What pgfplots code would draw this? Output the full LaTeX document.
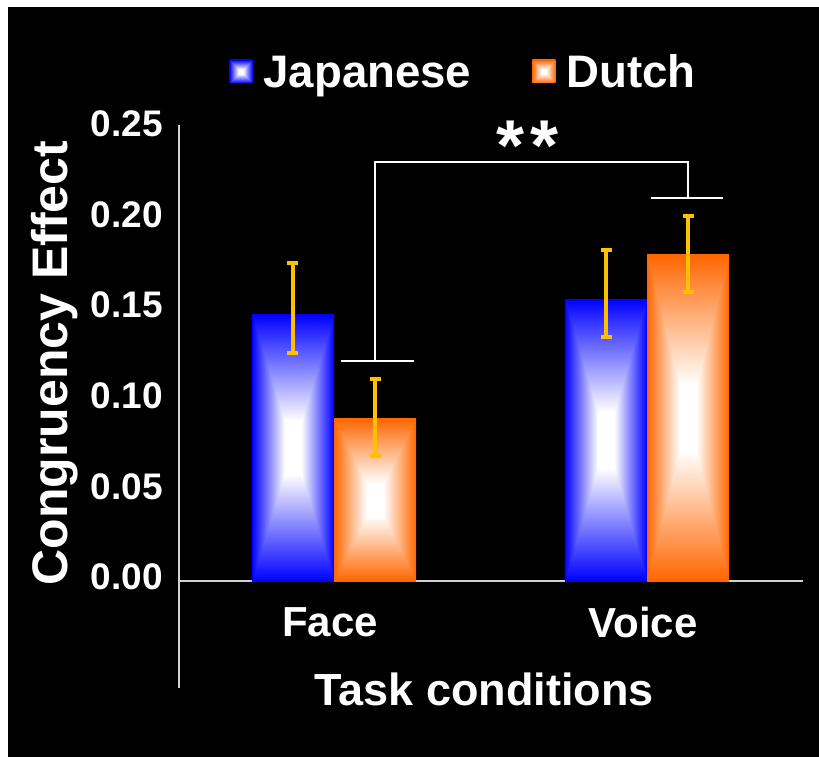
\documentclass[border=0pt]{standalone}
\usepackage{fontspec}
\setmainfont{Liberation Sans}
\usepackage{pgfplots}
\pgfplotsset{compat=1.18}
\definecolor{jblue}{RGB}{0,0,255}
\definecolor{dorange}{RGB}{255,102,0}
\definecolor{errcol}{RGB}{255,192,0}
\definecolor{axcol}{RGB}{210,210,210}

\pgfdeclarefunctionalshading{japshade}{\pgfpoint{-50bp}{-50bp}}{\pgfpoint{50bp}{50bp}}{}{abs 25 div exch abs 25 div 2 copy lt {exch} if pop 0.2 sub 0.8 div dup 0 lt {pop 0} if dup 1 gt {pop 1} if 1 exch sub dup 1}
\pgfdeclarefunctionalshading{dutshade}{\pgfpoint{-50bp}{-50bp}}{\pgfpoint{50bp}{50bp}}{}{abs 25 div exch abs 25 div 2 copy lt {exch} if pop 0.2 sub 0.8 div dup 0 lt {pop 0} if dup 1 gt {pop 1} if dup 0.6 mul 1 exch sub exch 1 exch sub 1 3 1 roll}

\pgfplotsset{
  japbar/.style={ybar, bar width=0.262, bar shift=0pt, draw=none, fill=jblue, shade, shading=japshade,
    error bars/y dir=both, error bars/y explicit},
  dutbar/.style={ybar, bar width=0.262, bar shift=0pt, draw=none, fill=dorange, shade, shading=dutshade,
    error bars/y dir=both, error bars/y explicit},
}

\begin{document}
\begin{tikzpicture}
\useasboundingbox (0,0) rectangle (409.5pt,378pt);
\fill[white] (-10pt,-10pt) rectangle (420pt,390pt);
\fill[black] (4pt,-10pt) rectangle (420pt,374.5pt);
\begin{axis}[
  at={(89.5pt,34pt)}, anchor=south west,
  scale only axis, width=312pt, height=281.5pt,
  xmin=-0.4952, xmax=1.4984, ymin=-0.05905, ymax=0.2517,
  axis x line=middle, axis y line=left,
  axis line style={-, draw=axcol, line width=0.8pt},
  clip=false,
  xtick={0,1}, xticklabels={Face,Voice},
  ytick={0,0.05,0.10,0.15,0.20,0.25},
  major tick length=0pt,
  yticklabel style={text=white, font=\bfseries\fontsize{18.5}{18.5}\selectfont, inner sep=0pt, xshift=-8pt, yshift=2pt,
    /pgf/number format/fixed, /pgf/number format/fixed zerofill, /pgf/number format/precision=2,
    /pgf/number format/assume math mode=true},
  xticklabel style={text=white, font=\bfseries\fontsize{21}{21}\selectfont, inner sep=0pt, yshift=-13pt, xshift=-2pt},
  legend style={draw=none, fill=none, text=white, font=\bfseries\fontsize{22.8}{22.8}\selectfont,
    at={(0.4631,1.0924)}, anchor=center, inner sep=0pt, nodes={inner sep=5.5pt},
    /tikz/every even column/.append style={column sep=25pt}},
  legend columns=2,
  error bars/error bar style={line width=2pt, color=errcol},
  error bars/error mark options={rotate=90, mark size=2.75pt, line width=2pt, color=errcol},
]
% Face, Japanese
\addplot[legend image code/.code={\shade[shading=japshade] (0pt,-5pt) rectangle (11.5pt,6.5pt);}, japbar]
  coordinates {(-0.131,0.1472) +=(0,0.0281) -=(0,0.0215)};
\addlegendentry{Japanese}
% Face, Dutch
\addplot[legend image code/.code={\shade[shading=dutshade] (0pt,-5pt) rectangle (11.5pt,6.5pt);}, dutbar]
  coordinates {(0.131,0.0898) +=(0,0.0217) -=(0,0.0206)};
\addlegendentry{Dutch}
% Voice, Japanese
\addplot[forget plot, japbar]
  coordinates {(0.869,0.1556) +=(0,0.0269) -=(0,0.0208)};
% Voice, Dutch
\addplot[forget plot, dutbar]
  coordinates {(1.131,0.1803) +=(0,0.0211) -=(0,0.0206)};
% significance brackets
\addplot[white, line width=1pt, mark=none, forget plot] coordinates {(0.022,0.1214) (0.255,0.1214)};
\addplot[white, line width=1pt, mark=none, forget plot] coordinates {(0.130,0.1214) (0.130,0.2312) (1.130,0.2312) (1.130,0.2115)};
\addplot[white, line width=1pt, mark=none, forget plot] coordinates {(1.012,0.2115) (1.243,0.2115)};
\end{axis}
\node[text=white, font=\bfseries\fontsize{25}{25}\selectfont, rotate=90] at (27.5pt,196.5pt) {Congruency Effect};
\node[text=white, font=\bfseries\fontsize{22.5}{22.5}\selectfont, anchor=base] at (242pt,25.5pt) {Task conditions};
\node[text=white, font=\bfseries\fontsize{36}{36}\selectfont, inner sep=0pt] at (264pt,305pt) {*\hspace{3pt}*};
\end{tikzpicture}
\end{document}
